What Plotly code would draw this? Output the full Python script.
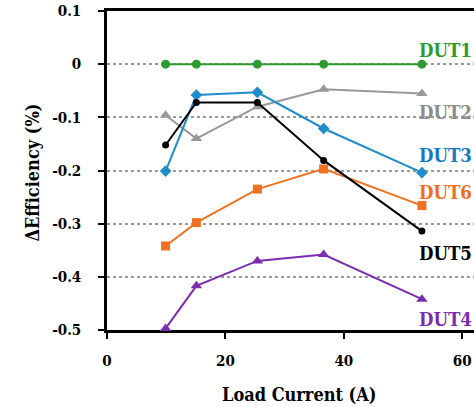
import plotly.graph_objects as go

# Data
load_current = [9.9, 15.1, 25.4, 36.6, 53.2]
dut1 = [0.0, 0.0, 0.0, 0.0, 0.0]
dut2 = [-0.096, -0.140, -0.080, -0.047, -0.055]
dut3 = [-0.201, -0.058, -0.053, -0.121, -0.204]
dut4 = [-0.497, -0.417, -0.370, -0.358, -0.442]
dut5 = [-0.152, -0.072, -0.072, -0.181, -0.314]
dut6 = [-0.342, -0.298, -0.235, -0.197, -0.266]

series_names = ["DUT1", "DUT2", "DUT3", "DUT6", "DUT5", "DUT4"]
label_y = [0.026, -0.090, -0.171, -0.241, -0.357, -0.480]

y_tickvals = [0.1, 0.0, -0.1, -0.2, -0.3, -0.4, -0.5]
y_ticktext = ["0.1", "0", "-0.1", "-0.2", "-0.3", "-0.4", "-0.5"]
x_tickvals = [0, 20, 40, 60]
x_ticktext = ["0", "20", "40", "60"]

FONT = "DejaVu Serif Condensed, DejaVu Serif, serif"

styles = {
    "DUT1": dict(y=dut1, color="#2E9B2E", symbol="circle", size=9),
    "DUT2": dict(y=dut2, color="#999999", symbol="triangle-up", size=10),
    "DUT3": dict(y=dut3, color="#1F8CCB", symbol="diamond", size=9),
    "DUT6": dict(y=dut6, color="#F07122", symbol="square", size=9),
    "DUT5": dict(y=dut5, color="#000000", symbol="circle", size=7),
    "DUT4": dict(y=dut4, color="#7A2EAF", symbol="triangle-up", size=10),
}
label_colors = {
    "DUT1": "#2E9B2E", "DUT2": "#8C8C8C", "DUT3": "#1479C4",
    "DUT6": "#F26E1E", "DUT5": "#000000", "DUT4": "#7A2EAF",
}

fig = go.Figure()
for name in ["DUT2", "DUT3", "DUT6", "DUT5", "DUT4", "DUT1"]:
    s = styles[name]
    fig.add_trace(go.Scatter(
        x=load_current, y=s["y"], mode="lines+markers", name=name,
        line=dict(color=s["color"], width=2),
        marker=dict(color=s["color"], symbol=s["symbol"], size=s["size"]),
        cliponaxis=False, showlegend=False,
    ))

for name, ly in zip(series_names, label_y):
    fig.add_annotation(
        x=52.4, y=ly, xref="x", yref="y", xanchor="left", yanchor="middle",
        text="<b>" + name + "</b>", showarrow=False,
        font=dict(family=FONT, size=18.5, color=label_colors[name]),
    )

fig.add_annotation(
    x=0.522, y=0, xref="paper", yref="paper", yshift=-64,
    xanchor="center", yanchor="middle", showarrow=False,
    text="<b>Load Current (A)</b>",
    font=dict(family=FONT, size=18, color="#000000"),
)
fig.add_annotation(
    x=-0.204, y=0.494, xref="paper", yref="paper",
    xanchor="center", yanchor="middle", showarrow=False, textangle=-90,
    text="<b>ΔEfficiency (%)</b>",
    font=dict(family=FONT, size=18, color="#000000"),
)

fig.update_layout(
    width=474, height=407,
    margin=dict(l=107, r=0, t=11, b=77),
    paper_bgcolor="white", plot_bgcolor="white",
    font=dict(family=FONT, color="#000000"),
)
fig.update_xaxes(
    range=[0, 62], tickvals=x_tickvals, ticktext=["<b>" + t + "</b>" for t in x_ticktext],
    showgrid=False, zeroline=False, layer="below traces",
    showline=True, linecolor="#000000", linewidth=2.5, mirror=True,
    ticks="outside", ticklen=6, tickwidth=2, tickcolor="#000000",
    tickfont=dict(family=FONT, size=15, color="#000000"),
    ticklabelstandoff=9,
)
fig.update_yaxes(
    range=[-0.5, 0.1], tickvals=y_tickvals, ticktext=["<b>" + t + "</b>" for t in y_ticktext],
    showgrid=True, gridcolor="#9A9A9A", gridwidth=2, griddash="dot",
    zeroline=False, layer="below traces",
    showline=True, linecolor="#000000", linewidth=2.5,
    ticks="outside", ticklen=6, tickwidth=2, tickcolor="#000000",
    tickfont=dict(family=FONT, size=15, color="#000000"),
    ticklabelstandoff=14,
)

fig.write_html(
    "out.html",
    config={"displayModeBar": False},
    post_script="document.body.style.margin='0';document.body.style.overflow='hidden';",
)
